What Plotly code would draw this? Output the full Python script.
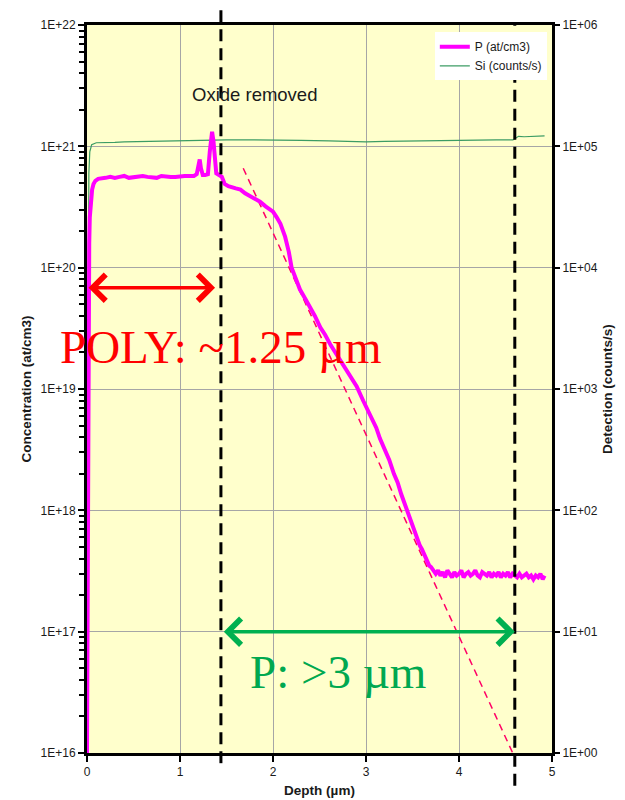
import plotly.graph_objects as go

# ---------------- data ----------------
# Phosphorus concentration (at/cm3) vs depth (um)
p_depth = [0.000, 0.006, 0.012, 0.018, 0.024, 0.030, 0.040, 0.055, 0.070, 0.090, 0.120,
           0.160, 0.200, 0.250, 0.300, 0.350, 0.400, 0.450, 0.500, 0.550, 0.600, 0.650,
           0.700, 0.750, 0.800, 0.850, 0.900, 0.950, 1.000, 1.050, 1.100, 1.150, 1.180,
           1.200, 1.212, 1.225, 1.245, 1.270, 1.300, 1.320, 1.335, 1.345, 1.360, 1.375,
           1.390, 1.420, 1.450, 1.480, 1.520, 1.600, 1.650, 1.700, 1.800, 1.860, 1.920,
           2.000, 2.040, 2.080, 2.130, 2.170, 2.200, 2.250, 2.290, 2.350, 2.400, 2.450,
           2.510, 2.560, 2.620, 2.670, 2.720, 2.780, 2.840, 2.900, 2.970, 3.020, 3.070,
           3.110, 3.150, 3.200, 3.250, 3.300, 3.340, 3.380, 3.420, 3.440, 3.470, 3.500,
           3.530, 3.550, 3.580, 3.600, 3.630, 3.650, 3.680, 3.700, 3.725, 3.750, 3.775,
           3.800, 3.825, 3.850, 3.875, 3.900, 3.925, 3.950, 3.975, 4.000, 4.025, 4.050,
           4.075, 4.100, 4.125, 4.150, 4.175, 4.200, 4.225, 4.250, 4.275, 4.300, 4.325,
           4.350, 4.375, 4.400, 4.425, 4.450, 4.475, 4.500, 4.525, 4.550, 4.575, 4.600,
           4.625, 4.650, 4.675, 4.700, 4.725, 4.750, 4.775, 4.800, 4.825, 4.850, 4.875,
           4.900, 4.920]
p_conc = [1.0e16, 2.0e17, 8.0e18, 6.0e19, 1.6e20, 2.6e20, 3.6e20, 4.4e20, 4.9e20, 5.2e20, 5.4e20,
          5.5e20, 5.5e20, 5.6e20, 5.5e20, 5.6e20, 5.7e20, 5.5e20, 5.6e20, 5.6e20, 5.7e20, 5.6e20,
          5.6e20, 5.5e20, 5.7e20, 5.6e20, 5.6e20, 5.6e20, 5.7e20, 5.7e20, 5.7e20, 5.7e20, 5.9e20,
          7.0e20, 7.8e20, 6.6e20, 5.8e20, 5.8e20, 5.9e20, 9.0e20, 1.25e21, 1.32e21, 1.1e21, 7.5e20,
          6.0e20, 5.8e20, 5.6e20, 4.9e20, 4.7e20, 4.5e20, 4.4e20, 4.1e20, 3.7e20, 3.5e20, 3.2e20,
          2.9e20, 2.6e20, 2.3e20, 1.8e20, 1.35e20, 1.0e20, 8.0e19, 6.6e19, 5.5e19, 4.7e19, 4.0e19,
          3.2e19, 2.8e19, 2.3e19, 2.0e19, 1.8e19, 1.5e19, 1.25e19, 1.05e19, 8.0e18, 6.6e18, 5.5e18,
          4.8e18, 3.9e18, 3.2e18, 2.6e18, 2.0e18, 1.7e18, 1.35e18, 1.1e18, 1.0e18, 8.6e17, 7.6e17,
          6.4e17, 5.9e17, 5.1e17, 4.8e17, 4.2e17, 4.0e17, 3.5e17, 3.4e17, 3.2e17, 3.0e17, 3.2e17,
          2.9e17, 3.1e17, 2.8e17, 3.2e17, 3.0e17, 2.8e17, 3.1e17, 2.9e17, 3.0e17, 3.2e17, 2.8e17,
          3.0e17, 3.1e17, 2.9e17, 3.0e17, 3.2e17, 2.9e17, 2.8e17, 3.1e17, 3.0e17, 2.9e17, 3.1e17,
          2.8e17, 3.0e17, 2.9e17, 3.1e17, 2.8e17, 3.0e17, 2.9e17, 3.1e17, 2.8e17, 3.0e17, 2.9e17,
          2.8e17, 3.0e17, 2.8e17, 2.9e17, 3.0e17, 2.8e17, 2.9e17, 2.7e17, 2.9e17, 2.8e17, 3.0e17,
          2.7e17, 2.9e17]

# Silicon matrix signal (counts/s) vs depth (um)
si_depth = [0.000, 0.005, 0.010, 0.015, 0.020, 0.030, 0.050, 0.100, 0.200, 0.300, 0.400,
            0.600, 0.800, 1.000, 1.200, 1.350, 1.500, 1.800, 2.000, 2.300, 2.600, 2.900,
            3.000, 3.200, 3.500, 3.800, 4.000, 4.200, 4.400, 4.580, 4.610, 4.640, 4.700,
            4.800, 4.920]
si_counts = [1.0, 30.0, 1.0e3, 2.0e4, 6.0e4, 9.0e4, 1.03e5, 1.07e5, 1.07e5, 1.08e5, 1.09e5,
             1.10e5, 1.11e5, 1.12e5, 1.12e5, 1.13e5, 1.13e5, 1.13e5, 1.12e5, 1.12e5, 1.11e5, 1.10e5,
             1.09e5, 1.10e5, 1.11e5, 1.11e5, 1.12e5, 1.12e5, 1.13e5, 1.13e5, 1.18e5, 1.21e5, 1.20e5,
             1.21e5, 1.22e5]

# exponential-tail guide line (dashed pink)
trend_depth = [1.68, 4.72]
trend_conc = [6.6e20, 5.8e15]

# vertical boundaries (um): oxide removed / diffusion limit
boundary_depths = [1.44, 4.60]
poly_span = [0.0, 1.377]   # red double arrow
p_span = [1.455, 4.60]     # green double arrow

# axis ticks
x_ticks = [0, 1, 2, 3, 4, 5]
conc_ticks = [1e16, 1e17, 1e18, 1e19, 1e20, 1e21, 1e22]
conc_labels = ["1E+16", "1E+17", "1E+18", "1E+19", "1E+20", "1E+21", "1E+22"]
det_ticks = [1.0, 10.0, 100.0, 1e3, 1e4, 1e5, 1e6]
det_labels = ["1E+00", "1E+01", "1E+02", "1E+03", "1E+04", "1E+05", "1E+06"]

# ---------------- figure ----------------
ARIAL = "Arial, Liberation Sans, sans-serif"
TIMES = "Times New Roman, Liberation Serif, serif"
TXT = "#1a1a1a"

fig = go.Figure()

fig.add_trace(go.Scatter(
    x=si_depth, y=si_counts, mode="lines", name="Si (counts/s)",
    line=dict(color="#3C9C64", width=1.2), yaxis="y", legendrank=2))

fig.add_trace(go.Scatter(
    x=trend_depth, y=trend_conc, mode="lines", showlegend=False,
    line=dict(color="#FF0066", width=1.5, dash="7px,5px"), yaxis="y2"))

fig.add_trace(go.Scatter(
    x=p_depth, y=p_conc, mode="lines", name="P (at/cm3)",
    line=dict(color="#FF00FF", width=4), yaxis="y2", legendrank=1))

# dashed vertical boundaries extending beyond the frame
fig.add_shape(type="line", xref="x", yref="paper",
              x0=boundary_depths[0], x1=boundary_depths[0], y0=-0.014, y1=1.024,
              line=dict(color="black", width=3, dash="12px,7px"))
fig.add_shape(type="line", xref="x", yref="paper",
              x0=boundary_depths[1], x1=boundary_depths[1], y0=-0.045, y1=1.0,
              line=dict(color="black", width=3, dash="12px,7px"))

# double arrows
fig.add_annotation(x=poly_span[1], y=19.835, ax=poly_span[0], ay=19.835,
                   xref="x", yref="y2", axref="x", ayref="y2", text="",
                   showarrow=True, arrowside="end+start", arrowhead=4, startarrowhead=4,
                   arrowwidth=3.5, arrowsize=1.45, startarrowsize=1.45, arrowcolor="#FF0000",
                   standoff=0, startstandoff=0)
fig.add_annotation(x=p_span[1], y=17.0, ax=p_span[0], ay=17.0,
                   xref="x", yref="y2", axref="x", ayref="y2", text="",
                   showarrow=True, arrowside="end+start", arrowhead=4, startarrowhead=4,
                   arrowwidth=3.5, arrowsize=1.45, startarrowsize=1.45, arrowcolor="#00B050",
                   standoff=0, startstandoff=0)

# texts
fig.add_annotation(x=1.445, y=19.35, xref="x", yref="y2", text="POLY: ~1.25 µm",
                   showarrow=False, font=dict(family=TIMES, size=47, color="#FF0000"))
fig.add_annotation(x=2.70, y=16.67, xref="x", yref="y2", text="P: &gt;3 µm",
                   showarrow=False, font=dict(family=TIMES, size=47, color="#00A850"))
fig.add_annotation(x=1.80, y=21.43, xref="x", yref="y2", text="Oxide removed",
                   showarrow=False, font=dict(family=ARIAL, size=18.5, color=TXT))

minor_conc = [float(m) * 10.0 ** k for k in range(16, 22) for m in range(2, 10)]

fig.update_layout(
    width=617, height=792,
    margin=dict(l=79, r=73, t=16.5, b=47, autoexpand=False),
    paper_bgcolor="white", plot_bgcolor="#FFFFCC",
    font=dict(family=ARIAL, color=TXT, size=12),
    showlegend=True,
    legend=dict(x=0.748, y=0.99, xanchor="left", yanchor="top",
                bgcolor="white", borderwidth=0, font=dict(family=ARIAL, size=12, color=TXT),
                tracegroupgap=0, itemwidth=30),
    xaxis=dict(range=[0, 5], tickvals=x_ticks, ticktext=[str(v) for v in x_ticks],
               ticks="outside", ticklen=6, tickwidth=2, tickcolor="black",
               showline=True, linewidth=3, linecolor="black", mirror=True,
               showgrid=True, gridcolor="#A6A6A6", gridwidth=1, zeroline=False,
               tickfont=dict(size=12, color=TXT),
               title=dict(text="<b>Depth (µm)</b>", font=dict(size=13.5, color=TXT), standoff=8),
               automargin=False),
    yaxis=dict(type="log", range=[0, 6], side="right", tickvals=det_ticks, ticktext=det_labels,
               ticks="outside", ticklen=5, tickwidth=2, tickcolor="black",
               showline=True, linewidth=3, linecolor="black",
               showgrid=True, gridcolor="#A6A6A6", gridwidth=1, zeroline=False,
               tickfont=dict(size=12, color=TXT),
               title=dict(text="<b>Detection (counts/s)</b>", font=dict(size=13.5, color=TXT), standoff=6),
               automargin=False),
    yaxis2=dict(type="log", range=[16, 22], side="left", overlaying="y", anchor="x",
                tickvals=conc_ticks, ticktext=conc_labels,
                ticks="outside", ticklen=6, tickwidth=2, tickcolor="black",
                minor=dict(tickvals=minor_conc, ticks="outside", ticklen=5, tickwidth=2,
                           tickcolor="black", showgrid=False),
                showline=True, linewidth=3, linecolor="black",
                showgrid=False, zeroline=False,
                tickfont=dict(size=12, color=TXT),
                title=dict(text="<b>Concentration (at/cm3)</b>", font=dict(size=13.5, color=TXT), standoff=6),
                automargin=False),
)

fig.write_html("out.html")
